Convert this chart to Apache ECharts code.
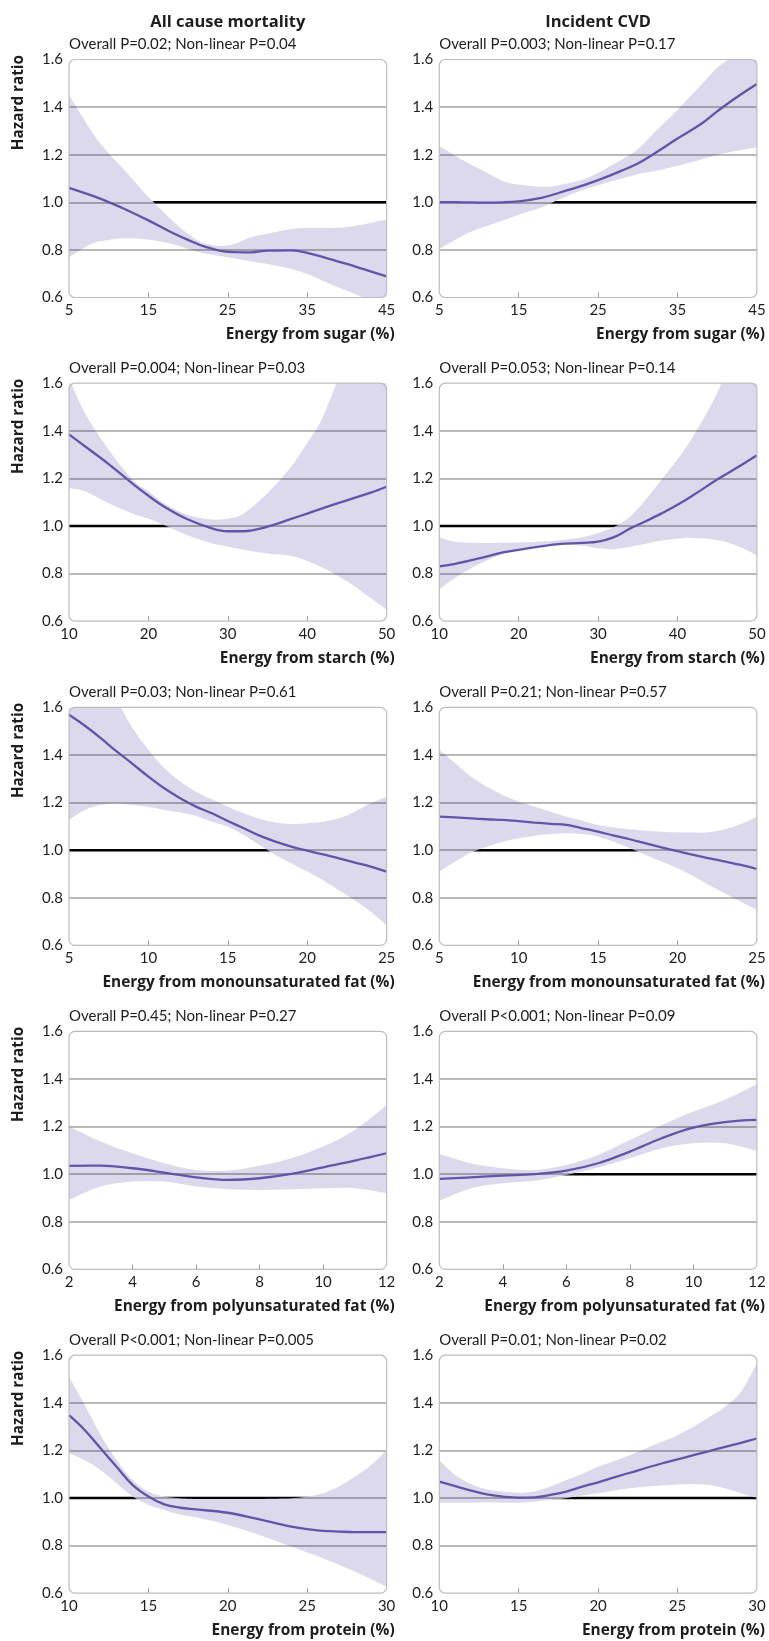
<!DOCTYPE html>
<html><head><meta charset="utf-8">
<script src="https://cdn.jsdelivr.net/npm/echarts@6/dist/echarts.min.js"></script>
<style>html,body{margin:0;padding:0;background:#fff}#c{width:769px;height:1641px}</style>
</head><body><div id="c"></div>
<script>
// ---------- DATA ----------
const colTitles = ['All cause mortality', 'Incident CVD'];
const yTicks = [0.6, 0.8, 1.0, 1.2, 1.4, 1.6];
const refValue = 1.0;

const sugarTicks = [5, 15, 25, 35, 45];
const starchTicks = [10, 20, 30, 40, 50];
const mufaTicks = [5, 10, 15, 20, 25];
const pufaTicks = [2, 4, 6, 8, 10, 12];
const proteinTicks = [10, 15, 20, 25, 30];

const xNames = ['Energy from sugar (%)', 'Energy from starch (%)', 'Energy from monounsaturated fat (%)',
  'Energy from polyunsaturated fat (%)', 'Energy from protein (%)'];

const pLabels = [
  'Overall P=0.02; Non-linear P=0.04', 'Overall P=0.003; Non-linear P=0.17',
  'Overall P=0.004; Non-linear P=0.03', 'Overall P=0.053; Non-linear P=0.14',
  'Overall P=0.03; Non-linear P=0.61', 'Overall P=0.21; Non-linear P=0.57',
  'Overall P=0.45; Non-linear P=0.27', 'Overall P<0.001; Non-linear P=0.09',
  'Overall P<0.001; Non-linear P=0.005', 'Overall P=0.01; Non-linear P=0.02'
];

// Sugar – all cause mortality
const sugarAllX  = [5, 8, 10, 12, 15, 18, 20, 22, 25, 28, 30, 33, 35, 38, 40, 42, 45];
const sugarAllHR = [1.061, 1.027, 1.001, 0.972, 0.924, 0.872, 0.842, 0.815, 0.792, 0.790, 0.797, 0.798, 0.788, 0.760, 0.741, 0.720, 0.689];
const sugarAllLo = [0.769, 0.828, 0.842, 0.849, 0.844, 0.825, 0.804, 0.786, 0.769, 0.751, 0.741, 0.720, 0.699, 0.656, 0.628, 0.600, 0.550];
const sugarAllHi = [1.452, 1.290, 1.206, 1.135, 1.023, 0.924, 0.868, 0.828, 0.818, 0.854, 0.868, 0.888, 0.892, 0.892, 0.896, 0.907, 0.928];
// Sugar – incident CVD
const sugarCvdX  = [5, 8, 10, 13, 15, 18, 20, 23, 25, 28, 30, 32, 35, 38, 40, 42, 45];
const sugarCvdHR = [1.001, 1.000, 0.999, 1.000, 1.004, 1.020, 1.039, 1.070, 1.093, 1.133, 1.163, 1.203, 1.268, 1.330, 1.382, 1.431, 1.497];
const sugarCvdLo = [0.804, 0.861, 0.889, 0.924, 0.948, 0.980, 1.011, 1.051, 1.072, 1.100, 1.118, 1.130, 1.154, 1.180, 1.199, 1.213, 1.231];
const sugarCvdHi = [1.237, 1.177, 1.142, 1.090, 1.075, 1.065, 1.072, 1.095, 1.124, 1.180, 1.223, 1.290, 1.389, 1.494, 1.565, 1.620, 1.750];
// Starch – all cause mortality
const starchAllX  = [10, 12, 15, 18, 20, 22, 25, 28, 30, 32, 35, 38, 40, 42, 45, 48, 50];
const starchAllHR = [1.385, 1.335, 1.260, 1.178, 1.127, 1.081, 1.027, 0.990, 0.978, 0.978, 0.997, 1.030, 1.052, 1.075, 1.108, 1.140, 1.165];
const starchAllLo = [1.160, 1.146, 1.096, 1.053, 1.031, 1.003, 0.960, 0.927, 0.913, 0.900, 0.884, 0.874, 0.853, 0.824, 0.768, 0.697, 0.648];
const starchAllHi = [1.620, 1.475, 1.320, 1.195, 1.146, 1.096, 1.046, 1.027, 1.031, 1.053, 1.138, 1.250, 1.350, 1.460, 1.720, 2.000, 2.200];
// Starch – incident CVD
const starchCvdX  = [10, 12, 15, 18, 20, 23, 25, 28, 30, 32, 34, 36, 38, 40, 42, 45, 48, 50];
const starchCvdHR = [0.830, 0.841, 0.864, 0.889, 0.900, 0.915, 0.924, 0.929, 0.934, 0.953, 0.989, 1.020, 1.053, 1.089, 1.130, 1.195, 1.255, 1.297];
const starchCvdLo = [0.733, 0.783, 0.840, 0.881, 0.903, 0.920, 0.921, 0.917, 0.906, 0.903, 0.913, 0.925, 0.939, 0.946, 0.950, 0.941, 0.910, 0.876];
const starchCvdHi = [0.953, 0.934, 0.929, 0.930, 0.931, 0.935, 0.939, 0.953, 0.971, 0.996, 1.039, 1.110, 1.195, 1.280, 1.378, 1.560, 1.800, 2.000];
// Monounsaturated fat – all cause mortality
const mufaAllX  = [5, 6, 7, 8, 9, 10, 11, 12, 13, 14, 15, 16, 17, 18, 19, 20, 21, 22, 23, 24, 25];
const mufaAllHR = [1.569, 1.523, 1.471, 1.415, 1.363, 1.309, 1.260, 1.218, 1.183, 1.155, 1.123, 1.092, 1.061, 1.036, 1.015, 0.998, 0.982, 0.966, 0.948, 0.931, 0.910];
const mufaAllLo = [1.127, 1.169, 1.190, 1.197, 1.190, 1.183, 1.169, 1.158, 1.144, 1.120, 1.099, 1.064, 1.022, 0.980, 0.945, 0.910, 0.874, 0.832, 0.790, 0.741, 0.685];
const mufaAllHi = [1.900, 1.820, 1.720, 1.630, 1.513, 1.422, 1.345, 1.289, 1.246, 1.214, 1.183, 1.155, 1.131, 1.116, 1.110, 1.113, 1.120, 1.134, 1.162, 1.197, 1.225];
// Monounsaturated fat – incident CVD
const mufaCvdX  = [5, 6, 7, 8, 9, 10, 11, 12, 13, 14, 15, 16, 17, 18, 19, 20, 21, 22, 23, 24, 25];
const mufaCvdHR = [1.141, 1.138, 1.134, 1.130, 1.127, 1.122, 1.116, 1.111, 1.106, 1.092, 1.078, 1.061, 1.046, 1.029, 1.012, 0.996, 0.980, 0.966, 0.952, 0.938, 0.921];
const mufaCvdLo = [0.910, 0.952, 0.990, 1.015, 1.036, 1.050, 1.061, 1.068, 1.071, 1.068, 1.057, 1.036, 1.008, 0.980, 0.952, 0.924, 0.891, 0.853, 0.818, 0.783, 0.748];
const mufaCvdHi = [1.422, 1.366, 1.309, 1.267, 1.232, 1.204, 1.183, 1.162, 1.141, 1.124, 1.106, 1.095, 1.088, 1.082, 1.078, 1.075, 1.074, 1.075, 1.088, 1.110, 1.141];
// Polyunsaturated fat – all cause mortality
const pufaAllX  = [2, 3, 4, 5, 6, 7, 8, 9, 10, 11, 12];
const pufaAllHR = [1.035, 1.036, 1.025, 1.007, 0.987, 0.976, 0.983, 1.001, 1.029, 1.057, 1.088];
const pufaAllLo = [0.892, 0.948, 0.969, 0.969, 0.948, 0.937, 0.934, 0.937, 0.941, 0.941, 0.920];
const pufaAllHi = [1.200, 1.137, 1.088, 1.046, 1.018, 1.015, 1.035, 1.067, 1.116, 1.186, 1.291];
// Polyunsaturated fat – incident CVD
const pufaCvdX  = [2, 3, 4, 5, 6, 7, 8, 9, 10, 11, 12];
const pufaCvdHR = [0.980, 0.987, 0.994, 1.000, 1.015, 1.046, 1.095, 1.151, 1.196, 1.219, 1.228];
const pufaCvdLo = [0.888, 0.941, 0.962, 0.973, 0.997, 1.028, 1.067, 1.109, 1.130, 1.130, 1.098];
const pufaCvdHi = [1.085, 1.046, 1.025, 1.018, 1.039, 1.081, 1.144, 1.207, 1.263, 1.313, 1.378];
// Protein – all cause mortality
const protAllX  = [10, 11, 12, 13, 14, 15, 16, 17, 18, 20, 22, 24, 25, 26, 27, 28, 29, 30];
const protAllHR = [1.348, 1.285, 1.208, 1.131, 1.055, 1.006, 0.973, 0.959, 0.952, 0.938, 0.910, 0.880, 0.869, 0.862, 0.859, 0.857, 0.857, 0.857];
const protAllLo = [1.187, 1.159, 1.117, 1.062, 1.006, 0.971, 0.950, 0.931, 0.919, 0.887, 0.845, 0.796, 0.771, 0.747, 0.720, 0.691, 0.660, 0.628];
const protAllHi = [1.509, 1.390, 1.264, 1.159, 1.076, 1.027, 1.006, 0.999, 0.996, 0.996, 0.996, 0.999, 1.006, 1.020, 1.048, 1.090, 1.138, 1.201];
// Protein – incident CVD
const protCvdX  = [10, 11, 12, 13, 14, 15, 16, 17, 18, 19, 20, 22, 24, 25, 26, 27, 28, 29, 30];
const protCvdHR = [1.069, 1.050, 1.031, 1.015, 1.006, 1.001, 1.003, 1.013, 1.027, 1.048, 1.066, 1.106, 1.145, 1.162, 1.180, 1.197, 1.215, 1.232, 1.250];
const protCvdLo = [0.980, 0.980, 0.980, 0.982, 0.980, 0.980, 0.985, 0.992, 0.999, 1.010, 1.020, 1.041, 1.052, 1.057, 1.059, 1.055, 1.041, 1.020, 1.001];
const protCvdHi = [1.159, 1.097, 1.059, 1.036, 1.027, 1.022, 1.027, 1.048, 1.076, 1.101, 1.131, 1.180, 1.236, 1.264, 1.299, 1.340, 1.383, 1.446, 1.565];

// ---------- ASSEMBLY ----------
const panels = [
  {x: sugarAllX, hr: sugarAllHR, lo: sugarAllLo, hi: sugarAllHi, ticks: sugarTicks},
  {x: sugarCvdX, hr: sugarCvdHR, lo: sugarCvdLo, hi: sugarCvdHi, ticks: sugarTicks},
  {x: starchAllX, hr: starchAllHR, lo: starchAllLo, hi: starchAllHi, ticks: starchTicks},
  {x: starchCvdX, hr: starchCvdHR, lo: starchCvdLo, hi: starchCvdHi, ticks: starchTicks},
  {x: mufaAllX, hr: mufaAllHR, lo: mufaAllLo, hi: mufaAllHi, ticks: mufaTicks},
  {x: mufaCvdX, hr: mufaCvdHR, lo: mufaCvdLo, hi: mufaCvdHi, ticks: mufaTicks},
  {x: pufaAllX, hr: pufaAllHR, lo: pufaAllLo, hi: pufaAllHi, ticks: pufaTicks},
  {x: pufaCvdX, hr: pufaCvdHR, lo: pufaCvdLo, hi: pufaCvdHi, ticks: pufaTicks},
  {x: protAllX, hr: protAllHR, lo: protAllLo, hi: protAllHi, ticks: proteinTicks},
  {x: protCvdX, hr: protCvdHR, lo: protCvdLo, hi: protCvdHi, ticks: proteinTicks}
];

const FONT = 'Lato, "Open Sans", sans-serif';
const BFONT = '"Open Sans", Lato, sans-serif';
const TEXT = '#1d1d1d';
const PURPLE = '#6553a7';
const BAND = '#dcd9ec';
const GRIDC = 'rgba(0,0,0,0.37)';
const BORDER = '#bdbdbd';

const colLeft = [69, 439.3];
const plotW = 317.6;
const rowTop = [59.5, 383.2, 707.4, 1031.4, 1355.2];
const plotH = 238;

// Catmull-Rom -> cubic bezier path through pixel points (pixels come from api.coord)
function smoothPath(pts, startWithMove) {
  let d = (startWithMove ? 'M' : 'L') + pts[0][0] + ' ' + pts[0][1];
  for (let i = 0; i < pts.length - 1; i++) {
    const p0 = pts[Math.max(0, i - 1)], p1 = pts[i], p2 = pts[i + 1], p3 = pts[Math.min(pts.length - 1, i + 2)];
    const c1x = p1[0] + (p2[0] - p0[0]) / 6, c1y = p1[1] + (p2[1] - p0[1]) / 6;
    const c2x = p2[0] - (p3[0] - p1[0]) / 6, c2y = p2[1] - (p3[1] - p1[1]) / 6;
    d += ' C' + c1x + ' ' + c1y + ' ' + c2x + ' ' + c2y + ' ' + p2[0] + ' ' + p2[1];
  }
  return d;
}

const grids = [], xAxes = [], yAxes = [], series = [], graphics = [];

panels.forEach((p, i) => {
  const r = Math.floor(i / 2), c = i % 2;
  const L = colLeft[c], T = rowTop[r];
  const xmin = p.ticks[0], xmax = p.ticks[p.ticks.length - 1];
  grids.push({left: L, top: T, width: plotW, height: plotH, containLabel: false});
  xAxes.push({
    type: 'value', gridIndex: i, min: xmin, max: xmax,
    axisLine: {show: false},
    axisTick: {show: true, inside: true, length: 5, customValues: p.ticks.slice(1, -1),
      lineStyle: {color: '#9a9a9a', width: 1}},
    axisLabel: {customValues: p.ticks, margin: 5, fontSize: 15, color: TEXT, fontFamily: FONT,
      showMinLabel: true, showMaxLabel: true},
    splitLine: {show: false}
  });
  yAxes.push({
    type: 'value', gridIndex: i, min: yTicks[0], max: yTicks[yTicks.length - 1], interval: 0.2, z: 3,
    axisLine: {show: false}, axisTick: {show: false},
    axisLabel: {formatter: v => v.toFixed(1), margin: 6, fontSize: 15, color: TEXT, fontFamily: FONT,
      showMinLabel: true, showMaxLabel: true},
    splitLine: {show: true, showMinLine: false, showMaxLine: false,
      lineStyle: {color: GRIDC, width: 1.7}}
  });
  // reference line HR = 1
  series.push({
    type: 'line', xAxisIndex: i, yAxisIndex: i, z: 1, silent: true, symbol: 'none',
    data: [[xmin, refValue], [xmax, refValue]],
    lineStyle: {color: '#000', width: 2.4}
  });
  // confidence band
  series.push({
    type: 'custom', xAxisIndex: i, yAxisIndex: i, z: 2, silent: true, clip: true,
    data: [[p.x[0], p.hr[0]]],
    renderItem: function (params, api) {
      const up = p.x.map((x, j) => api.coord([x, p.hi[j]]));
      const dn = p.x.map((x, j) => api.coord([x, p.lo[j]])).reverse();
      const d = smoothPath(up, true) + ' ' + smoothPath(dn, false) + ' Z';
      const cs = params.coordSys;
      return {
        type: 'path', shape: {pathData: d},
        style: {fill: BAND, stroke: null},
        clipPath: {type: 'rect', shape: {x: cs.x, y: cs.y, width: cs.width, height: cs.height}}
      };
    }
  });
  // hazard ratio curve
  series.push({
    type: 'line', xAxisIndex: i, yAxisIndex: i, z: 5, silent: true, symbol: 'none', smooth: 0.4,
    data: p.x.map((x, j) => [x, p.hr[j]]),
    lineStyle: {color: PURPLE, width: 2.3}
  });
  // frame
  graphics.push({type: 'rect', z: 20, silent: true,
    shape: {x: L, y: T, width: plotW, height: plotH, r: 6},
    style: {fill: null, stroke: BORDER, lineWidth: 1.2}});
  // p-value subtitle
  graphics.push({type: 'text', z: 20, x: L, y: T - 15,
    style: {text: pLabels[i], font: '15px ' + FONT, fill: TEXT, align: 'left', verticalAlign: 'middle',
      textAlign: 'left', textVerticalAlign: 'middle'}});
  // x axis name
  graphics.push({type: 'text', z: 20, x: L + plotW + 8, y: T + plotH + 37,
    style: {text: xNames[r], font: 'bold 15.4px ' + BFONT, fill: TEXT, align: 'right', verticalAlign: 'middle',
      textAlign: 'right', textVerticalAlign: 'middle'}});
  if (c === 0) {
    graphics.push({type: 'text', z: 20, x: 19, y: T - 4.5, rotation: Math.PI / 2,
      style: {text: 'Hazard ratio', font: 'bold 15.3px ' + BFONT, fill: TEXT, align: 'right', verticalAlign: 'middle',
        textAlign: 'right', textVerticalAlign: 'middle'}});
  }
  if (r === 0) {
    graphics.push({type: 'text', z: 20, x: L + plotW / 2, y: 22,
      style: {text: colTitles[c], font: 'bold 16.5px ' + BFONT, fill: TEXT, align: 'center', verticalAlign: 'middle',
        textAlign: 'center', textVerticalAlign: 'middle'}});
  }
});

const chart = echarts.init(document.getElementById('c'), null, {renderer: 'canvas'});
chart.setOption({
  animation: false,
  backgroundColor: '#fff',
  textStyle: {fontFamily: FONT},
  grid: grids, xAxis: xAxes, yAxis: yAxes, series: series,
  graphic: graphics
});
</script></body></html>
